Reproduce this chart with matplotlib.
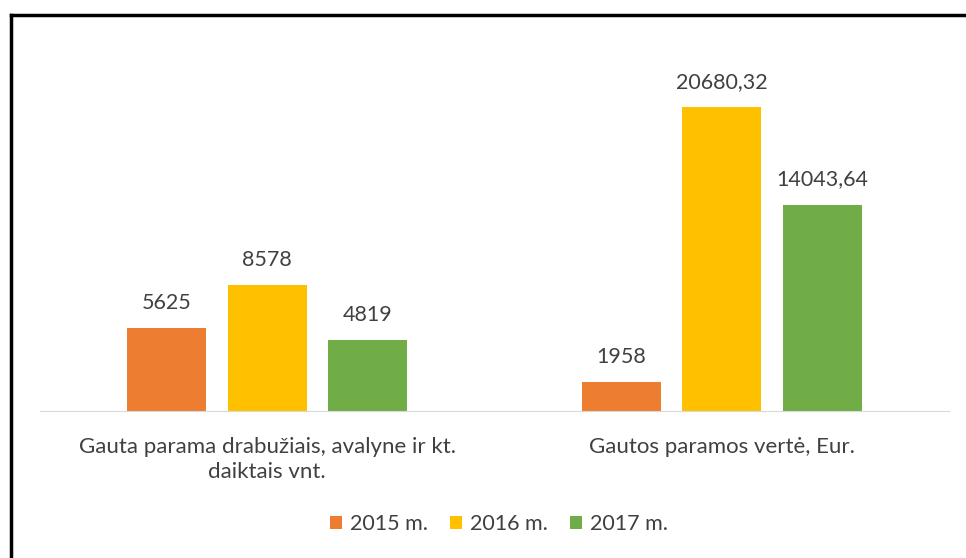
import matplotlib.pyplot as plt
import matplotlib.lines as mlines
import numpy as np

categories = ["Gauta parama drabužiais, avalyne ir kt.\ndaiktais vnt.",
              "Gautos paramos vertė, Eur."]
series = ["2015 m.", "2016 m.", "2017 m."]
values = [[5625, 1958], [8578, 20680.32], [4819, 14043.64]]
labels = [["5625", "1958"], ["8578", "20680,32"], ["4819", "14043,64"]]
colors = ["#ED7D31", "#FFC000", "#70AD47"]

plt.rcParams["font.family"] = ["Lato", "DejaVu Sans"]
txt = "#404040"

W, H = 966, 558
fig = plt.figure(figsize=(W / 100, H / 100), dpi=100)
ax = fig.add_axes([40 / W, 1 - 411 / H, 909 / W, 351 / H])

x = np.arange(len(categories))
step = 0.221
width = 0.174
for i, s in enumerate(series):
    pos = x + (i - 1) * step
    ax.bar(pos, values[i], width=width, color=colors[i], label=s)
    for p, v, l in zip(pos, values[i], labels[i]):
        ax.annotate(l, (p, v), xytext=(0, 11), textcoords="offset points",
                    ha="center", va="bottom", fontsize=15.5, color=txt)

ax.set_xlim(-0.5, 1.5)
ax.set_ylim(0, 23878)
for sp in ["top", "right", "left"]:
    ax.spines[sp].set_visible(False)
ax.spines["bottom"].set_color("#D9D9D9")
ax.set_yticks([])
ax.set_xticks(x)
ax.set_xticklabels(categories, fontsize=16, color=txt, linespacing=1.3)
ax.tick_params(axis="x", length=0, pad=19)

leg = fig.legend(loc="center", bbox_to_anchor=(499 / W, 1 - 524 / H), ncol=3,
                 frameon=False, fontsize=15.5, handlelength=0.55, handleheight=0.55,
                 handletextpad=0.35, columnspacing=1.05)
for t in leg.get_texts():
    t.set_color(txt)

# frame around the chart (only left and top edges are in view)
fig.add_artist(mlines.Line2D([11 / W, 11 / W], [0, 1 - 15 / H], color="black", lw=2.5))
fig.add_artist(mlines.Line2D([11 / W, 1], [1 - 15 / H, 1 - 15 / H], color="black", lw=2.5))

fig.savefig("out.png", dpi=100)
